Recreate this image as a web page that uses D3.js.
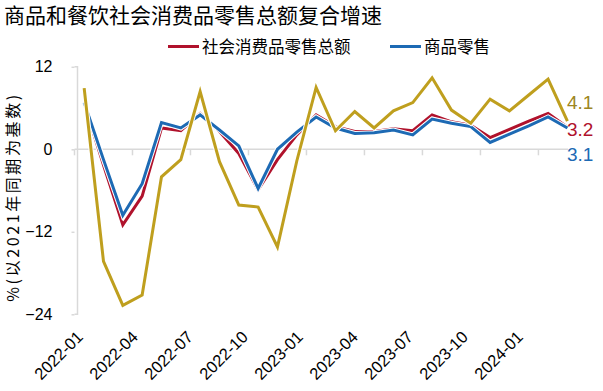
<!DOCTYPE html>
<html><head><meta charset="utf-8">
<script src="https://cdn.jsdelivr.net/npm/d3@7"></script>
<style>body{margin:0;background:#fff}</style>
</head><body>
<script>
const months = ["2022-01","2022-02","2022-03","2022-04","2022-05","2022-06","2022-07","2022-08","2022-09","2022-10","2022-11","2022-12","2023-01","2023-02","2023-03","2023-04","2023-05","2023-06","2023-07","2023-08","2023-09","2023-10","2023-11","2023-12","2024-01","2024-02"];
const totalRetail = [6.7,-2.3,-11.0,-6.8,3.1,2.7,5.2,2.6,-0.6,-5.9,-1.5,2.1,5.0,3.3,2.6,2.6,3.0,2.7,5.0,4.0,3.5,1.7,2.9,4.1,5.2,3.2];
const goodsRetail = [6.8,-1.5,-9.6,-5.0,3.9,3.1,5.0,2.8,0.5,-5.7,0.0,2.5,4.7,3.1,2.3,2.4,2.8,2.1,4.4,3.8,3.3,1.0,2.2,3.4,4.7,3.1];
const catering = [8.9,-16.3,-22.7,-21.2,-4.0,-1.5,8.4,-1.8,-8.1,-8.4,-14.2,-1.7,9.0,2.7,5.5,3.1,5.6,6.8,10.4,5.7,3.8,7.3,5.6,7.9,10.2,4.1];
const yTicks = [12,0,-12,-24];
const xTickLabels = ["2022-01","2022-04","2022-07","2022-10","2023-01","2023-04","2023-07","2023-10","2024-01"];
const title = "商品和餐饮社会消费品零售总额复合增速";
const yTitle = "%(以2021年同期为基数)";

const W=603,H=391;
const svg=d3.select("body").append("svg").attr("width",W).attr("height",H);
const cjk="'Noto Sans CJK SC','Noto Sans',sans-serif";
const lat="'Liberation Sans',Arial,sans-serif";

const x=d3.scaleBand().domain(months).range([74.5,74.5+19.33*26]).padding(0);
const y=d3.scaleLinear().domain([-24,12]).range([314.3,66.8]);
const xc=d=>x(d)+x.bandwidth()/2;

// title
svg.append("text").attr("x",4).attr("y",23).attr("font-family",cjk).attr("font-size",21).attr("fill","#000").text(title);

// legend
const leg=[{n:"社会消费品零售总额",c:"#b0122c",x:168},{n:"商品零售",c:"#1d6ab4",x:390}];
leg.forEach(l=>{
  svg.append("line").attr("x1",l.x).attr("x2",l.x+31).attr("y1",46.5).attr("y2",46.5).attr("stroke",l.c).attr("stroke-width",3);
  svg.append("text").attr("x",l.x+34).attr("y",52.5).attr("font-family",cjk).attr("font-size",16.5).attr("fill","#000").text(l.n);
});

// y axis
const gy=svg.append("g").attr("transform","translate(74.5,0)").call(d3.axisLeft(y).tickValues(yTicks).tickSize(3).tickPadding(19));
gy.select(".domain").attr("stroke","#d9d9d9").attr("stroke-width",1.5).attr("d",`M0,${y(12)}H3V${y(-24)}H0`);
gy.selectAll(".tick line").attr("stroke","#d9d9d9").attr("stroke-width",1.5);
gy.selectAll(".tick text").attr("font-family",lat).attr("font-size",16).attr("fill","#000");

// zero line with ticks
const zeroG=svg.append("g").attr("transform",`translate(0,${y(0)})`);
zeroG.append("line").attr("x1",x.range()[0]).attr("x2",x.range()[1]-9).attr("stroke","#d9d9d9").attr("stroke-width",1.5);
zeroG.selectAll("line.t").data(months.filter((d,i)=>i%3===0)).enter().append("line").attr("class","t")
  .attr("x1",d=>x(d)).attr("x2",d=>x(d)).attr("y1",0).attr("y2",6).attr("stroke","#d9d9d9").attr("stroke-width",1.5);

// x labels
const xl=d3.scalePoint().domain(xTickLabels).range([84,84+55*8]);
svg.selectAll("text.xl").data(xTickLabels).enter().append("text").attr("class","xl")
  .attr("transform",d=>`translate(${xl(d)},338) rotate(-45)`).attr("text-anchor","end")
  .attr("font-family",lat).attr("font-size",16.5).attr("fill","#000").text(d=>d);

// y title
svg.append("text").attr("transform","translate(19,197) rotate(-90)").attr("text-anchor","middle")
  .attr("font-family",cjk).attr("font-size",16).attr("letter-spacing",2.6).attr("fill","#000").text(yTitle);

// lines
const line=d3.line().x((d,i)=>xc(months[i])).y(d=>y(d));
const series=[{v:totalRetail,c:"#b0122c"},{v:goodsRetail,c:"#1d6ab4"},{v:catering,c:"#bf9f1e"}];
series.forEach(s=>{
  svg.append("path").datum(s.v).attr("d",line).attr("fill","none").attr("stroke","#fff").attr("stroke-width",5).attr("stroke-linejoin","miter");
  svg.append("path").datum(s.v).attr("d",line).attr("fill","none").attr("stroke",s.c).attr("stroke-width",3).attr("stroke-linejoin","miter");
});

// end labels
const ends=[{t:"4.1",c:"#9d8622",yy:102},{t:"3.2",c:"#b0122c",yy:129},{t:"3.1",c:"#1d6ab4",yy:154}];
ends.forEach(e=>{
  svg.append("text").attr("x",567).attr("y",e.yy+7).attr("font-family",lat).attr("font-size",19).attr("fill",e.c).text(e.t);
});
</script>
</body></html>
